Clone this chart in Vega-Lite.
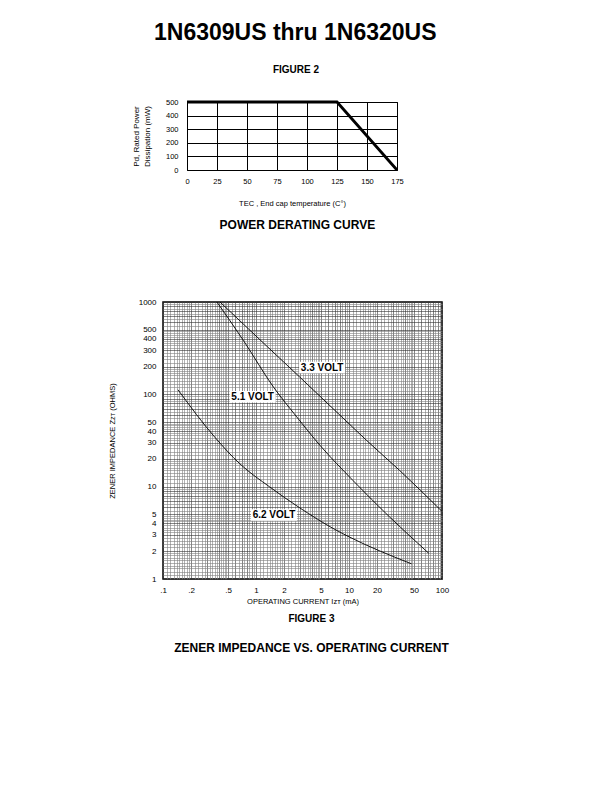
{
  "$schema": "https://vega.github.io/schema/vega-lite/v6.json",
  "padding": {"left": 103, "top": 21, "right": 5, "bottom": 5},
  "background": "white",
  "config": {
    "font": "Liberation Sans",
    "title": {"font": "Liberation Sans", "color": "black", "subtitleFont": "Liberation Sans", "subtitleColor": "black"},
    "axis": {"labelFont": "Liberation Sans", "titleFont": "Liberation Sans", "labelColor": "black", "titleColor": "black", "titleFontWeight": "normal"},
    "view": {"stroke": "black"}
  },
  "title": {"text": "1N6309US thru 1N6320US", "fontSize": 23, "fontWeight": "bold", "anchor": "middle", "offset": 20, "dx": 19},
  "spacing": 65,
  "datasets": {
    "power": [
      {"temp": 0, "power": 500},
      {"temp": 125, "power": 500},
      {"temp": 175, "power": 0}
    ],
    "zener": [
      {"series": "3.3 V", "current": 0.41, "imp": 1000},
      {"series": "3.3 V", "current": 1, "imp": 428},
      {"series": "3.3 V", "current": 2.95, "imp": 154},
      {"series": "3.3 V", "current": 10, "imp": 48},
      {"series": "3.3 V", "current": 15.3, "imp": 32},
      {"series": "3.3 V", "current": 35, "imp": 15},
      {"series": "3.3 V", "current": 100, "imp": 5.4},
      {"series": "5.1 V", "current": 0.38, "imp": 1000},
      {"series": "5.1 V", "current": 0.73, "imp": 385},
      {"series": "5.1 V", "current": 1.54, "imp": 120},
      {"series": "5.1 V", "current": 2.74, "imp": 57},
      {"series": "5.1 V", "current": 4.88, "imp": 28},
      {"series": "5.1 V", "current": 11, "imp": 11.7},
      {"series": "5.1 V", "current": 27.3, "imp": 4.7},
      {"series": "5.1 V", "current": 72, "imp": 1.9},
      {"series": "6.2 V", "current": 0.145, "imp": 112},
      {"series": "6.2 V", "current": 0.36, "imp": 34.4},
      {"series": "6.2 V", "current": 0.67, "imp": 17.7},
      {"series": "6.2 V", "current": 1.41, "imp": 9.9},
      {"series": "6.2 V", "current": 2.95, "imp": 5.9},
      {"series": "6.2 V", "current": 7.06, "imp": 3.44},
      {"series": "6.2 V", "current": 10.1, "imp": 2.85},
      {"series": "6.2 V", "current": 47, "imp": 1.46}
    ],
    "labels": [
      {"label": "3.3 VOLT", "current": 5.14, "imp": 195},
      {"label": "5.1 VOLT", "current": 0.92, "imp": 94},
      {"label": "6.2 VOLT", "current": 1.56, "imp": 4.92}
    ],
    "blank": [{"k": ""}]
  },
  "vconcat": [
    {
      "title": {"text": "POWER DERATING CURVE", "orient": "bottom", "fontSize": 12, "fontWeight": "bold", "offset": 12, "anchor": "middle", "dx": 44},
      "spacing": 0,
      "hconcat": [
        {
          "width": 28,
          "height": 1,
          "view": {"stroke": null},
          "data": {"name": "blank"},
          "mark": {"type": "text"},
          "encoding": {"text": {"field": "k", "type": "nominal"}}
        },
        {
          "title": {"text": "FIGURE 2", "fontSize": 10, "fontWeight": "bold", "offset": 21, "anchor": "middle", "dx": 4},
          "width": 210,
          "height": 68,
          "data": {"name": "power"},
          "mark": {"type": "line", "color": "black", "strokeWidth": 2.8},
          "encoding": {
            "x": {
              "field": "temp", "type": "quantitative",
              "scale": {"domain": [0, 175], "nice": false},
              "axis": {
                "values": [0, 25, 50, 75, 100, 125, 150, 175],
                "title": "TEC , End cap temperature (C°)",
                "grid": true, "gridColor": "black", "gridOpacity": 1, "gridWidth": 1,
                "domain": false, "ticks": false, "labelFlush": false,
                "labelPadding": 7, "labelFontSize": 7.5, "titleFontSize": 7.5, "titlePadding": 15
              }
            },
            "y": {
              "field": "power", "type": "quantitative",
              "scale": {"domain": [0, 500], "nice": false},
              "axis": {
                "values": [0, 100, 200, 300, 400, 500],
                "title": ["Pd, Rated Power", "Dissipation (mW)"],
                "titleLineHeight": 11,
                "grid": true, "gridColor": "black", "gridOpacity": 1, "gridWidth": 1,
                "domain": false, "ticks": false, "labelFlush": false,
                "labelPadding": 9, "labelFontSize": 7.5, "titleFontSize": 8, "titlePadding": 14
              }
            }
          }
        }
      ]
    },
    {
      "spacing": 0,
      "hconcat": [
        {
          "width": 4,
          "height": 1,
          "view": {"stroke": null},
          "data": {"name": "blank"},
          "mark": {"type": "text"},
          "encoding": {"text": {"field": "k", "type": "nominal"}}
        },
        {
          "title": {
            "text": "FIGURE 3", "subtitle": "ZENER IMPEDANCE VS. OPERATING CURRENT",
            "orient": "bottom", "fontSize": 10, "fontWeight": "bold",
            "subtitleFontSize": 12, "subtitleFontWeight": "bold", "subtitlePadding": 19,
            "offset": 9, "anchor": "middle", "dx": 9
          },
          "width": 279,
          "height": 277,
          "view": {"stroke": "black", "strokeWidth": 1.5},
          "encoding": {
            "x": {
              "field": "current", "type": "quantitative",
              "scale": {"type": "log", "domain": [0.1, 100], "nice": false},
              "axis": {
                "values": [0.1,0.11,0.12,0.13,0.14,0.15,0.16,0.17,0.18,0.19,0.2,0.22,0.24,0.26,0.28,0.3,0.32,0.34,0.36,0.38,0.4,0.42,0.44,0.46,0.48,0.5,0.55,0.6,0.65,0.7,0.75,0.8,0.85,0.9,0.95,1,1.1,1.2,1.3,1.4,1.5,1.6,1.7,1.8,1.9,2,2.2,2.4,2.6,2.8,3,3.2,3.4,3.6,3.8,4,4.2,4.4,4.6,4.8,5,5.5,6,6.5,7,7.5,8,8.5,9,9.5,10,11,12,13,14,15,16,17,18,19,20,22,24,26,28,30,32,34,36,38,40,42,44,46,48,50,55,60,65,70,75,80,85,90,95,100],
                "labelExpr": "indexof([0.1,0.2,0.5,1,2,5,10,20,50,100], datum.value) >= 0 ? (datum.value < 1 ? replace(format(datum.value, '.1f'), '0.', '.') : format(datum.value, 'd')) : ''",
                "grid": true,
                "gridColor": {"condition": {"test": "indexof([0.1,0.2,0.3,0.4,0.5,0.6,0.7,0.8,0.9,1,2,3,4,5,6,7,8,9,10,20,30,40,50,60,70,80,90,100], datum.value) >= 0", "value": "#333333"}, "value": "#808080"},
                "gridWidth": 0.6,
                "domain": false, "ticks": false, "labelFlush": false, "labelOverlap": false,
                "labelPadding": 7, "labelFontSize": 8,
                "title": "OPERATING CURRENT Iᴢᴛ (mA)", "titleFontSize": 7.5, "titlePadding": 3
              }
            },
            "y": {
              "field": "imp", "type": "quantitative",
              "scale": {"type": "log", "domain": [1, 1000], "nice": false},
              "axis": {
                "values": [1,1.1,1.2,1.3,1.4,1.5,1.6,1.7,1.8,1.9,2,2.2,2.4,2.6,2.8,3,3.2,3.4,3.6,3.8,4,4.2,4.4,4.6,4.8,5,5.5,6,6.5,7,7.5,8,8.5,9,9.5,10,11,12,13,14,15,16,17,18,19,20,22,24,26,28,30,32,34,36,38,40,42,44,46,48,50,55,60,65,70,75,80,85,90,95,100,110,120,130,140,150,160,170,180,190,200,220,240,260,280,300,320,340,360,380,400,420,440,460,480,500,550,600,650,700,750,800,850,900,950,1000],
                "labelExpr": "indexof([1,2,3,4,5,10,20,30,40,50,100,200,300,400,500,1000], datum.value) >= 0 ? format(datum.value, 'd') : ''",
                "grid": true,
                "gridColor": {"condition": {"test": "indexof([1,2,3,4,5,6,7,8,9,10,20,30,40,50,60,70,80,90,100,200,300,400,500,600,700,800,900,1000], datum.value) >= 0", "value": "#333333"}, "value": "#808080"},
                "gridWidth": 0.6,
                "domain": false, "ticks": false, "labelFlush": false, "labelOverlap": false,
                "labelPadding": 7, "labelFontSize": 8,
                "title": "ZENER IMPEDANCE Zᴢᴛ (OHMS)", "titleFontSize": 7.5, "titlePadding": 22
              }
            }
          },
          "layer": [
            {
              "data": {"name": "zener"},
              "mark": {"type": "line", "color": "black", "strokeWidth": 0.9, "interpolate": "monotone"},
              "encoding": {"detail": {"field": "series", "type": "nominal"}}
            },
            {
              "data": {"name": "labels"},
              "mark": {"type": "point", "shape": "M-1,-0.25L1,-0.25L1,0.25L-1,0.25Z", "size": 2116, "filled": true, "color": "white", "opacity": 1, "strokeOpacity": 0}
            },
            {
              "data": {"name": "labels"},
              "mark": {"type": "text", "fontSize": 10, "fontWeight": "bold", "color": "black", "font": "Liberation Sans"},
              "encoding": {"text": {"field": "label", "type": "nominal"}}
            }
          ]
        }
      ]
    }
  ]
}
